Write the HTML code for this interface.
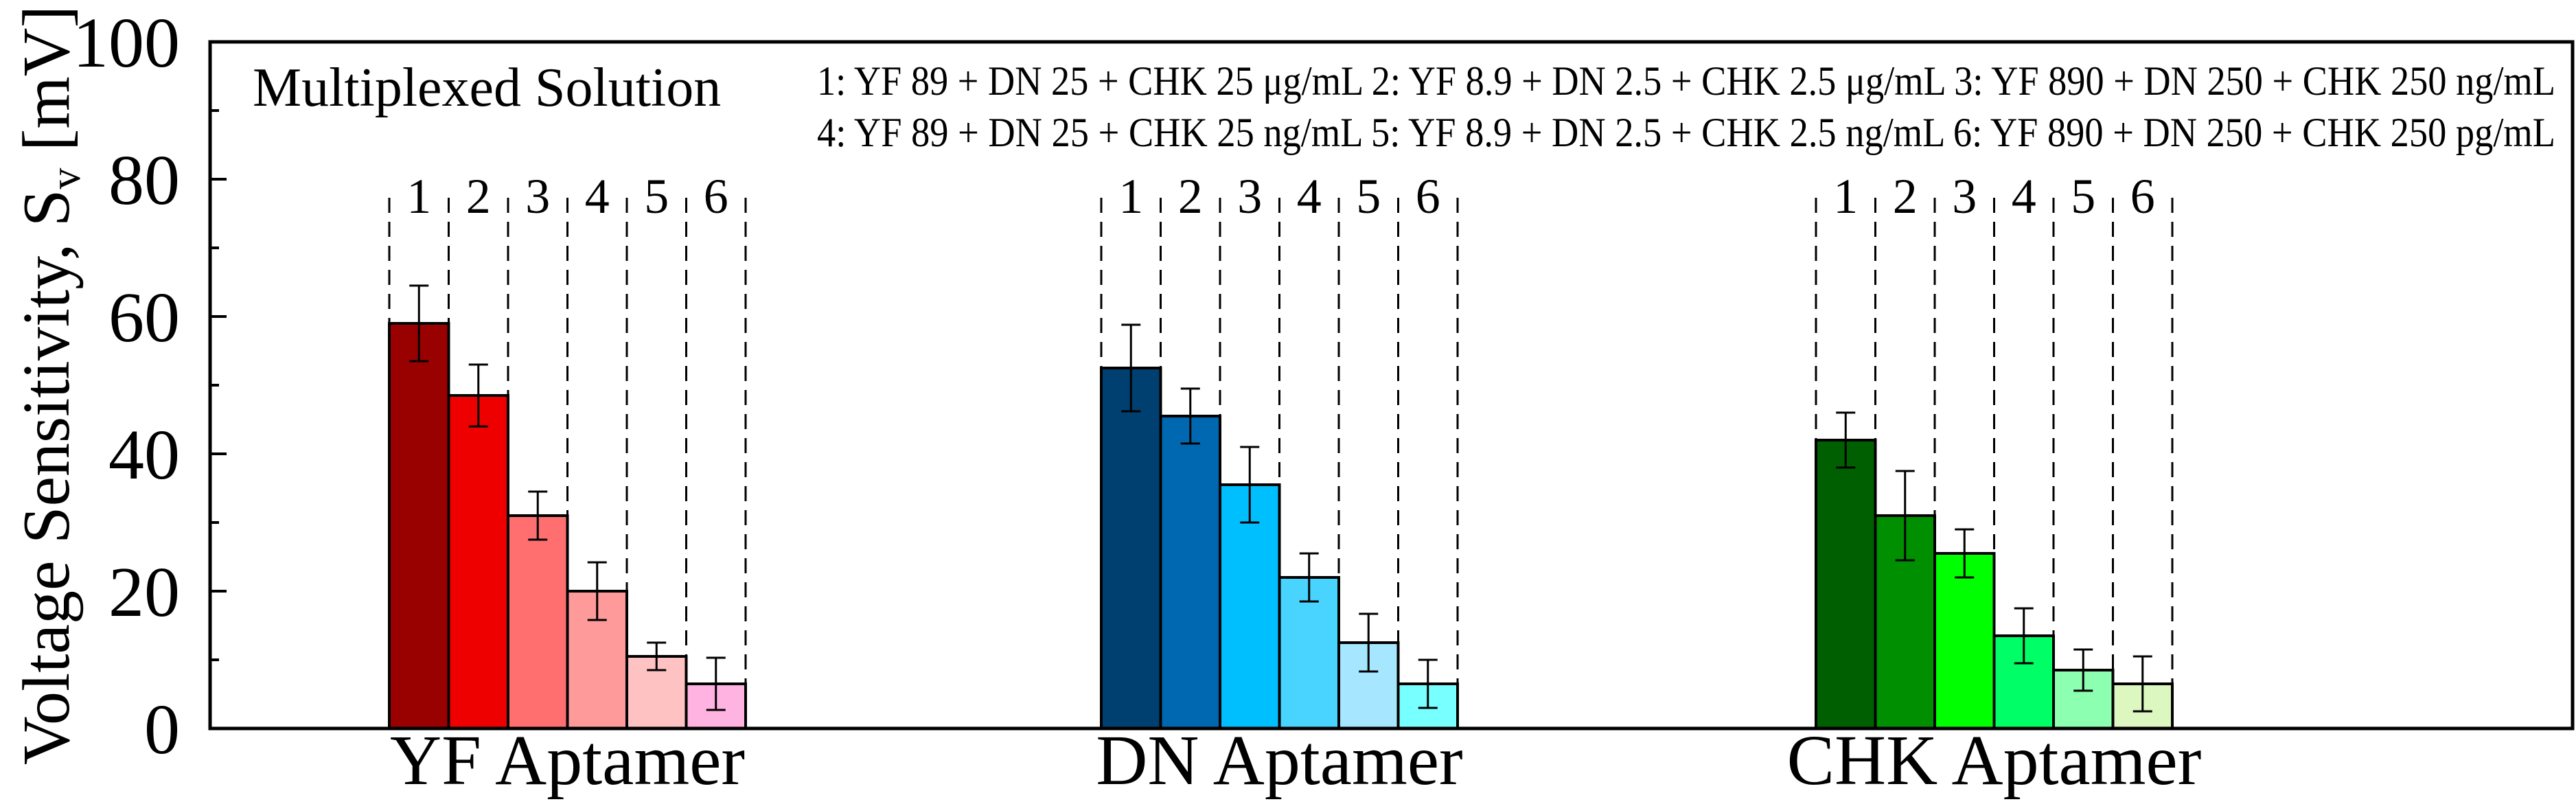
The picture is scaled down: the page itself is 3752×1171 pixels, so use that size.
<!DOCTYPE html>
<html><head><meta charset="utf-8"><style>
html,body{margin:0;padding:0;background:#fff;}
svg{display:block;}
svg text{font-family:"Liberation Serif","DejaVu Serif",serif;}
</style></head><body>
<svg id="chart" width="3752" height="1171" viewBox="0 0 3752 1171" font-family="Liberation Serif, serif">
<g id="dashes"></g>
<g id="bars"></g>
<g id="errs"></g>
<g id="nums"></g>
<rect x="306" y="61" width="3441" height="1000" fill="none" stroke="#000" stroke-width="5"/>
<g id="yticks"></g>
<g id="cats"></g>
<text transform="translate(100,561) rotate(-90)" text-anchor="middle" font-size="98" font-family="Liberation Serif, serif">Voltage Sensitivity, S<tspan font-size="62" dy="16">v</tspan><tspan dy="-16"> [mV]</tspan></text>
<text x="368" y="154" font-size="80" font-family="Liberation Serif, serif">Multiplexed Solution</text>
<text x="1190" y="138" font-size="60" textLength="2532" lengthAdjust="spacingAndGlyphs" font-family="Liberation Serif, serif">1: YF 89 + DN 25 + CHK 25 μg/mL  2: YF 8.9 + DN 2.5 + CHK 2.5 μg/mL  3: YF 890 + DN 250 + CHK 250 ng/mL</text>
<text x="1190" y="213" font-size="60" textLength="2532" lengthAdjust="spacingAndGlyphs" font-family="Liberation Serif, serif">4: YF 89 + DN 25 + CHK 25 ng/mL  5: YF 8.9 + DN 2.5 + CHK 2.5 ng/mL  6: YF 890 + DN 250 + CHK 250 pg/mL</text>
</svg>
<script>
const categories = ["YF Aptamer", "DN Aptamer", "CHK Aptamer"];
const yfValues = [59, 48.5, 31, 20, 10.5, 6.5];
const yfErrors = [5.5, 4.5, 3.5, 4.2, 2, 3.8];
const dnValues = [52.5, 45.5, 35.5, 22, 12.5, 6.5];
const dnErrors = [6.3, 4, 5.5, 3.5, 4.2, 3.5];
const chkValues = [42, 31, 25.5, 13.5, 8.5, 6.5];
const chkErrors = [4, 6.5, 3.5, 4, 3, 4];
const yTicks = [0, 20, 40, 60, 80, 100];
const barLabels = ["1", "2", "3", "4", "5", "6"];

const NS = "http://www.w3.org/2000/svg";
const FONT = "Liberation Serif, serif";
const X0 = 306, X1 = 3747, Y0 = 1061, Y1 = 61;
const yScale = v => Y0 - (v / 100) * (Y0 - Y1);
const groupStart = [567, 1604, 2645];
const BW = 86.5;
const xBar = (g, i) => groupStart[g] + i * BW;
const colors = [
  ["#990000", "#ee0000", "#ff6f6f", "#ff9a9a", "#ffc2c2", "#ffb3e0"],
  ["#004070", "#0068b0", "#00bfff", "#48d4ff", "#a6e6ff", "#78ffff"],
  ["#005f00", "#008f00", "#00ff00", "#00ff66", "#8cffb0", "#dcf8c0"]
];
const series = [[yfValues, yfErrors], [dnValues, dnErrors], [chkValues, chkErrors]];
function mk(tag, attrs, parent) {
  const e = document.createElementNS(NS, tag);
  for (const k in attrs) e.setAttribute(k, attrs[k]);
  parent.appendChild(e);
  return e;
}
const gD = document.getElementById("dashes"), gB = document.getElementById("bars"),
      gE = document.getElementById("errs"), gN = document.getElementById("nums"),
      gY = document.getElementById("yticks"), gC = document.getElementById("cats");

series.forEach((s, g) => {
  const vals = s[0], errs = s[1];
  for (let i = 0; i <= 6; i++) {
    const x = xBar(g, i);
    const d = mk("line", {x1: x, x2: x, y1: 288, y2: Y0, stroke: "#000", "stroke-width": 3, "stroke-dasharray": "22 13"}, gD);
    
    
  }
  vals.forEach((v, i) => {
    const x = xBar(g, i);
    const r = mk("rect", {x: x, y: yScale(v), width: BW, height: Y0 - yScale(v), fill: colors[g][i], stroke: "#000", "stroke-width": 4}, gB);
    
    
    const cx = x + BW / 2, e = errs[i];
    const eg = mk("g", {stroke: "#000", "stroke-width": 3}, gE);
    
    
    mk("line", {x1: cx, x2: cx, y1: yScale(v + e), y2: yScale(v - e)}, eg);
    mk("line", {x1: cx - 14, x2: cx + 14, y1: yScale(v + e), y2: yScale(v + e)}, eg);
    mk("line", {x1: cx - 14, x2: cx + 14, y1: yScale(v - e), y2: yScale(v - e)}, eg);
    const t = mk("text", {x: cx, y: 310, "text-anchor": "middle", "font-size": 72, "font-family": FONT}, gN);
    t.textContent = barLabels[i];
    
    
  });
  const c = mk("text", {x: groupStart[g] + 3 * BW, y: 1142, "text-anchor": "middle", "font-size": 104, "font-family": FONT}, gC);
  c.textContent = categories[g];
  
  
});

yTicks.forEach(v => {
  const y = yScale(v);
  mk("line", {x1: X0, x2: X0 + 24, y1: y, y2: y, stroke: "#000", "stroke-width": 4}, gY);
  const t = mk("text", {x: 262, y: y + 36, "text-anchor": "end", "font-size": 104, "font-family": FONT}, gY);
  t.textContent = String(v);
  
  
  if (v < 100) {
    const m = yScale(v + 10);
    mk("line", {x1: X0, x2: X0 + 13, y1: m, y2: m, stroke: "#000", "stroke-width": 4}, gY);
  }
});
</script>
</body></html>
